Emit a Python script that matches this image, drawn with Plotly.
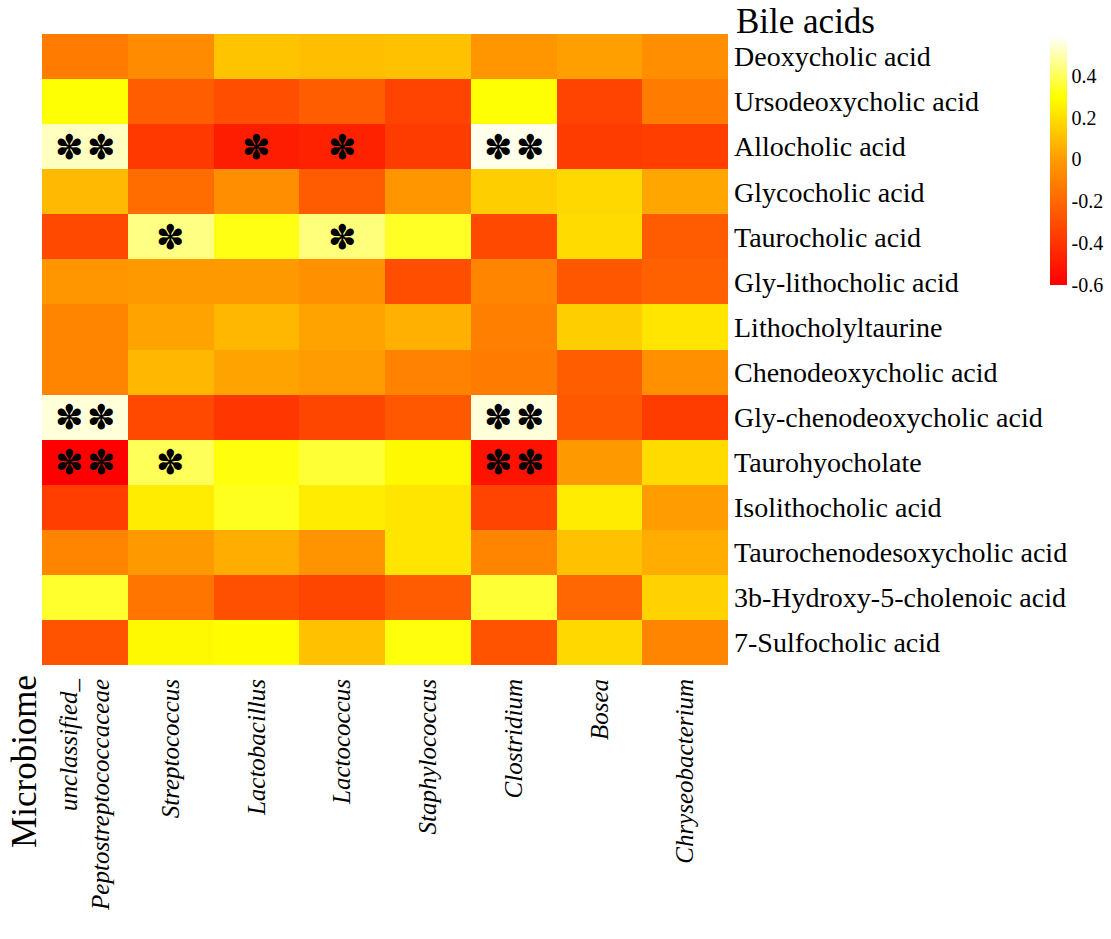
import plotly.graph_objects as go

microbes = ["unclassified_<br>Peptostreptococcaceae", "Streptococcus", "Lactobacillus", "Lactococcus",
            "Staphylococcus", "Clostridium", "Bosea", "Chryseobacterium"]
bile_acids = ["Deoxycholic acid", "Ursodeoxycholic acid", "Allocholic acid", "Glycocholic acid",
              "Taurocholic acid", "Gly-lithocholic acid", "Lithocholyltaurine", "Chenodeoxycholic acid",
              "Gly-chenodeoxycholic acid", "Taurohyocholate", "Isolithocholic acid",
              "Taurochenodesoxycholic acid", "3b-Hydroxy-5-cholenoic acid", "7-Sulfocholic acid"]

corr = [
    [-0.12, -0.06, 0.12, 0.10, 0.11, -0.02, 0.01, -0.05],
    [0.30, -0.24, -0.30, -0.24, -0.34, 0.30, -0.34, -0.12],
    [0.52, -0.38, -0.49, -0.47, -0.37, 0.57, -0.37, -0.36],
    [0.09, -0.18, -0.05, -0.25, -0.02, 0.15, 0.18, 0.03],
    [-0.32, 0.45, 0.32, 0.44, 0.34, -0.32, 0.19, -0.25],
    [-0.02, -0.01, -0.01, -0.04, -0.30, -0.09, -0.27, -0.23],
    [-0.09, 0.02, 0.08, 0.02, 0.06, -0.11, 0.15, 0.22],
    [-0.09, 0.08, 0.02, 0.00, -0.10, -0.12, -0.24, -0.04],
    [0.55, -0.32, -0.39, -0.33, -0.26, 0.55, -0.26, -0.37],
    [-0.60, 0.40, 0.31, 0.36, 0.28, -0.53, -0.01, 0.19],
    [-0.36, 0.24, 0.33, 0.24, 0.22, -0.34, 0.24, 0.00],
    [-0.09, -0.01, 0.05, -0.03, 0.22, -0.09, 0.11, 0.05],
    [0.35, -0.15, -0.29, -0.33, -0.25, 0.36, -0.20, 0.16],
    [-0.28, 0.28, 0.29, 0.11, 0.31, -0.28, 0.18, -0.09],
]

signif = [
    ["", "", "", "", "", "", "", ""],
    ["", "", "", "", "", "", "", ""],
    ["**", "", "*", "*", "", "**", "", ""],
    ["", "", "", "", "", "", "", ""],
    ["", "*", "", "*", "", "", "", ""],
    ["", "", "", "", "", "", "", ""],
    ["", "", "", "", "", "", "", ""],
    ["", "", "", "", "", "", "", ""],
    ["**", "", "", "", "", "**", "", ""],
    ["**", "*", "", "", "", "**", "", ""],
    ["", "", "", "", "", "", "", ""],
    ["", "", "", "", "", "", "", ""],
    ["", "", "", "", "", "", "", ""],
    ["", "", "", "", "", "", "", ""],
]

cbar_ticks = [0.4, 0.2, 0, -0.2, -0.4, -0.6]
cbar_labels = ["0.4", "0.2", "0", "-0.2", "-0.4", "-0.6"]

zmin, zmax = -0.6, 0.58
colorscale = [[0.0, "#FF0000"], [0.5, "#FF9900"], [0.76, "#FFFF00"], [1.0, "#FFFFF4"]]

serif = "Liberation Serif, Times New Roman, serif"
STAR = "\u273d"

fig = go.Figure()
fig.add_trace(go.Heatmap(
    z=corr, x=microbes, y=bile_acids, zmin=zmin, zmax=zmax,
    colorscale=colorscale, xgap=0, ygap=0,
    colorbar=dict(
        x=1.469, xanchor="left", y=0.798, yanchor="middle", len=0.391, lenmode="fraction",
        thickness=17, outlinewidth=0, tickvals=cbar_ticks, ticktext=cbar_labels,
        ticks="", tickfont=dict(family=serif, size=20, color="black"), ypad=0, xpad=0,
    ),
))

annotations = []
for i, row in enumerate(signif):
    for j, s in enumerate(row):
        if s:
            annotations.append(dict(
                x=microbes[j], y=bile_acids[i], text="\u200a".join(STAR for _ in s),
                showarrow=False, font=dict(family="DejaVu Sans", size=34, color="black"),
            ))

annotations.append(dict(text="Bile acids", xref="paper", yref="paper", x=1.0102, y=1.0205,
                        xanchor="left", yanchor="middle", showarrow=False, borderpad=0,
                        font=dict(family=serif, size=35, color="black")))
annotations.append(dict(text="Microbiome", xref="paper", yref="paper", x=-0.0248, y=-0.152,
                        xanchor="center", yanchor="middle", showarrow=False, textangle=-90,
                        borderpad=0, font=dict(family=serif, size=35, color="black")))

fig.update_layout(
    width=1111, height=939,
    margin=dict(l=42, r=383, t=34, b=274, autoexpand=False),
    paper_bgcolor="white", plot_bgcolor="white",
    annotations=annotations,
    xaxis=dict(tickangle=-90, ticks="", showgrid=False, zeroline=False,
               tickfont=dict(family=serif, size=25, color="black"), ticklabelstandoff=8),
    yaxis=dict(side="right", autorange="reversed", ticks="", showgrid=False, zeroline=False,
               tickfont=dict(family=serif, size=28, color="black"), ticklabelstandoff=5),
)

fig.update_xaxes(ticktext=["<i>" + m + "</i>" for m in microbes], tickvals=microbes)

fig.write_html("out.html", config={"displayModeBar": False},
               post_script="document.body.style.margin='0';document.body.style.overflow='hidden';")
